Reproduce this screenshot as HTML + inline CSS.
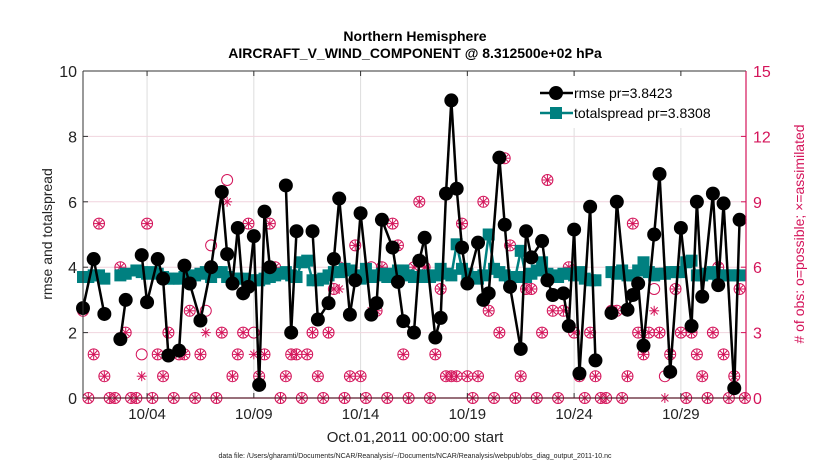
<!DOCTYPE html>
<html><head><meta charset="utf-8"><style>
body{margin:0;background:#fff;}
svg text{font-family:"Liberation Sans",Arial,sans-serif;}
</style></head><body>
<svg id="chart" width="830" height="470" xmlns="http://www.w3.org/2000/svg">
<rect width="830" height="470" fill="#fff"/>
<text x="415" y="41" text-anchor="middle" font-size="14" font-weight="bold">Northern Hemisphere</text>
<text x="415" y="58" text-anchor="middle" font-size="14" font-weight="bold">AIRCRAFT_V_WIND_COMPONENT @ 8.312500e+02 hPa</text>
<g id="grid"></g><g id="obs"></g><g id="spread"></g><g id="rmse"></g><g id="axes"></g>
<text x="415" y="442" text-anchor="middle" font-size="15" fill="#222">Oct.01,2011 00:00:00 start</text>
<text x="415" y="458" text-anchor="middle" font-size="7" fill="#222">data file: /Users/gharamti/Documents/NCAR/Reanalysis/~/Documents/NCAR/Reanalysis/webpub/obs_diag_output_2011-10.nc</text>
<text transform="translate(52,234) rotate(-90)" text-anchor="middle" font-size="14" fill="#222">rmse and totalspread</text>
<text transform="translate(804,234) rotate(-90)" text-anchor="middle" font-size="14" fill="#d4145a"># of obs: o=possible; ×=assimilated</text>
<g>
<rect x="530" y="76" width="214" height="52" fill="#fff"/>
<line x1="540" y1="93" x2="573" y2="93" stroke="#000" stroke-width="2.5"/><circle cx="556" cy="93" r="7" fill="#000"/>
<text x="574" y="98" font-size="14">rmse pr=3.8423</text>
<line x1="540" y1="113" x2="573" y2="113" stroke="#008080" stroke-width="2.5"/><rect x="550" y="107" width="12" height="12" fill="#008080"/>
<text x="574" y="118" font-size="14">totalspread pr=3.8308</text>
</g>
</svg>
<script>
const rmseSlot=[0,2,4,7,8,11,12,14,15,16,18,19,20,22,24,26,27,28,29,30,31,32,33,34,35,38,39,40,43,44,46,47,48,50,51,52,54,55,56,58,59,60,62,63,64,66,67,68,69,70,71,72,74,75,76,78,79,80,82,83,84,86,87,88,90,91,92,93,95,96,99,100,102,103,104,105,107,108,110,112,114,115,116,118,119,120,122,123];
const rmseVal=[2.75,4.25,2.57,1.8,3.0,4.37,2.93,4.25,3.65,1.3,1.45,4.05,3.5,2.37,4.0,6.3,4.4,3.5,5.2,3.2,3.4,4.95,0.4,5.7,4.0,6.5,2.0,5.1,5.1,2.4,2.9,4.25,6.1,2.55,3.6,5.65,2.55,2.9,5.45,4.6,3.55,2.35,2.0,4.2,4.9,1.85,2.45,6.25,9.1,6.4,4.6,3.5,4.75,3.0,3.2,7.35,5.3,3.4,1.5,5.1,4.3,4.8,3.6,3.15,3.2,2.2,5.15,0.75,5.85,1.15,2.6,6.0,2.7,3.15,3.5,1.6,5.0,6.85,0.8,5.2,2.2,6.0,3.1,6.25,3.45,5.95,0.3,5.45];
const spreadVal=[3.7,3.7,3.75,3.75,3.65,null,null,3.75,3.8,null,3.9,3.85,3.8,3.85,3.8,3.7,3.65,3.65,3.65,3.7,3.7,3.75,3.8,3.85,3.7,3.85,3.85,3.7,3.65,3.65,3.65,3.6,3.6,3.6,3.65,3.7,3.75,3.8,3.85,3.75,3.7,4.15,4.2,3.6,3.6,3.65,3.75,3.85,3.85,3.95,3.9,3.75,3.65,3.95,3.7,3.75,3.8,3.7,3.8,3.9,3.9,3.75,3.7,3.7,3.75,3.7,3.75,3.95,3.8,3.75,4.7,3.95,3.8,3.7,3.65,3.75,5.0,3.95,3.85,3.75,3.65,3.7,4.5,3.7,3.8,3.9,4.15,3.8,3.75,3.7,3.8,3.8,3.75,3.85,3.65,3.6,3.6,null,null,3.85,3.8,3.9,3.75,3.75,3.9,4.15,3.85,3.75,3.8,3.8,3.85,3.85,3.85,4.15,4.2,3.75,3.75,3.8,3.85,3.75,3.75,3.75,3.75,3.75];
const obsSlot=[0,1,2,3,4,5,6,7,8,9,10,11,11,12,13,14,15,16,17,18,19,20,21,22,23,23,24,24,25,26,27,27,28,29,30,31,32,32,33,34,35,36,37,38,39,40,41,42,43,44,45,46,47,48,48,49,50,51,52,53,54,54,55,56,57,58,59,60,61,62,63,64,65,66,67,68,69,70,71,72,73,74,75,76,77,78,79,80,81,82,83,84,85,86,87,88,89,90,91,92,93,94,95,96,97,98,99,100,101,102,103,104,105,106,107,107,108,109,109,110,111,112,113,114,115,116,117,118,119,120,121,122,123,124];
const obsCount=[4,0,2,8,1,0,0,6,3,0,0,2,1,8,0,2,1,3,0,2,2,4,0,2,4,3,7,6,0,3,10,9,1,2,3,8,3,2,1,2,8,6,0,1,2,2,0,2,3,1,0,3,5,5,6,0,1,7,1,0,6,4,4,6,0,8,7,2,0,6,9,6,0,2,5,1,1,1,8,1,0,1,9,4,0,3,11,7,0,1,5,5,0,3,10,4,0,4,6,3,1,0,3,1,0,0,4,4,0,1,8,3,2,3,5,4,3,1,0,2,5,3,0,3,2,1,0,3,6,2,0,1,5,0];
const obsType=["b","b","b","b","b","b","b","b","b","b","b","o","s","b","b","b","b","b","b","b","b","b","b","b","o","s","o","b","b","b","o","s","b","b","b","b","o","s","b","b","b","b","b","b","b","b","b","b","b","b","b","b","b","s","o","b","b","b","b","b","o","s","b","b","b","b","b","b","b","b","b","b","b","b","b","b","b","b","b","b","b","b","b","b","b","b","b","b","b","b","b","b","b","b","b","b","b","b","b","b","b","b","b","b","b","b","b","b","b","b","b","b","b","b","o","s","b","o","s","b","b","b","b","b","b","b","b","b","b","b","b","b","b","b"];
const leftTicks=[0,2,4,6,8,10];
const rightTicks=[0,3,6,9,12,15];
const dateTicks=[3,8,13,18,23,28];
const dateLabels=["10/04","10/09","10/14","10/19","10/24","10/29"];

const X0=83,X1=746,Y0=398,Y1=71,DAYS=31.05;
const xDay=d=>X0+(X1-X0)*d/DAYS;
const xSlot=s=>xDay(s/4);
const yL=v=>Y0-(Y0-Y1)*v/10;
const yR=v=>Y0-(Y0-Y1)*v/15;
const NS="http://www.w3.org/2000/svg";
function mk(tag,attrs,parent){const e=document.createElementNS(NS,tag);for(const k in attrs)e.setAttribute(k,attrs[k]);parent.appendChild(e);return e;}
const grid=document.getElementById('grid'),axes=document.getElementById('axes');
const MAG="#d4145a";
mk('rect',{x:X0,y:Y1,width:X1-X0,height:Y0-Y1,fill:'#fff'},grid);
dateTicks.forEach((d,i)=>{
  const l=mk('line',{x1:xDay(d),x2:xDay(d),y1:Y1,y2:Y0,stroke:'#ddd','stroke-width':1},grid);
  
  
  mk('line',{x1:xDay(d),x2:xDay(d),y1:Y0,y2:Y0-5,stroke:'#333'},axes);
  mk('line',{x1:xDay(d),x2:xDay(d),y1:Y1,y2:Y1+5,stroke:'#333'},axes);
  const t=mk('text',{x:xDay(d),y:419,'text-anchor':'middle','font-size':15,fill:'#222'},axes);
  t.textContent=dateLabels[i];
  
  
});
rightTicks.forEach(v=>{
  if(v>0&&v<15){const g=mk('line',{x1:X0,x2:X1,y1:yR(v),y2:yR(v),stroke:'#f0d4de','stroke-width':1},grid);
  
  }
  mk('line',{x1:X1,x2:X1-5,y1:yR(v),y2:yR(v),stroke:MAG},axes);
  const t=mk('text',{x:X1+7,y:yR(v)+6,'font-size':16,fill:MAG},axes);
  t.textContent=v;
  
  
});
leftTicks.forEach(v=>{
  mk('line',{x1:X0,x2:X0+5,y1:yL(v),y2:yL(v),stroke:'#333'},axes);
  const t=mk('text',{x:X0-6,y:yL(v)+6,'text-anchor':'end','font-size':16,fill:'#222'},axes);
  t.textContent=v;
  
  
});
mk('line',{x1:X0,x2:X1,y1:Y1,y2:Y1,stroke:'#333'},axes);
mk('line',{x1:X0,x2:X0,y1:Y1,y2:Y0,stroke:'#333'},axes);
mk('line',{x1:X0,x2:X1,y1:Y0,y2:Y0,stroke:'#5a1a2a','stroke-width':1.2},axes);
mk('line',{x1:X1,x2:X1,y1:Y1,y2:Y0,stroke:MAG,'stroke-width':1.2},axes);

const obsG=document.getElementById('obs');
obsSlot.forEach((s,i)=>{
  const cx=xSlot(s),cy=yR(obsCount[i]),tp=obsType[i];
  const g=mk('g',{},obsG);
  
  
  if(tp!=='s')mk('circle',{cx:cx,cy:cy,r:5.5,fill:'none',stroke:MAG,'stroke-width':1},g);
  if(tp!=='o'){for(let a=0;a<4;a++){const an=a*Math.PI/4,r=5;
    mk('line',{x1:cx-r*Math.cos(an),y1:cy-r*Math.sin(an),x2:cx+r*Math.cos(an),y2:cy+r*Math.sin(an),stroke:MAG,'stroke-width':1},g);}}
});
const spG=document.getElementById('spread');
for(let i=1;i<spreadVal.length;i++){
  if(spreadVal[i]!=null&&spreadVal[i-1]!=null){
    const l=mk('line',{x1:xSlot(i-1),y1:yL(spreadVal[i-1]),x2:xSlot(i),y2:yL(spreadVal[i]),stroke:'#008080','stroke-width':2.5},spG);
    
    
  }
}
spreadVal.forEach((v,i)=>{if(v==null)return;
  const r=mk('rect',{x:xSlot(i)-6,y:yL(v)-6,width:12,height:12,fill:'#008080'},spG);
  
  
});
const rG=document.getElementById('rmse');
for(let i=1;i<rmseSlot.length;i++){
  if(rmseSlot[i]-rmseSlot[i-1]<=2){
    const l=mk('line',{x1:xSlot(rmseSlot[i-1]),y1:yL(rmseVal[i-1]),x2:xSlot(rmseSlot[i]),y2:yL(rmseVal[i]),stroke:'#000','stroke-width':2.5},rG);
    
    
  }
}
rmseSlot.forEach((s,i)=>{
  const c=mk('circle',{cx:xSlot(s),cy:yL(rmseVal[i]),r:7,fill:'#000'},rG);
  
  
});
</script>
</body></html>
